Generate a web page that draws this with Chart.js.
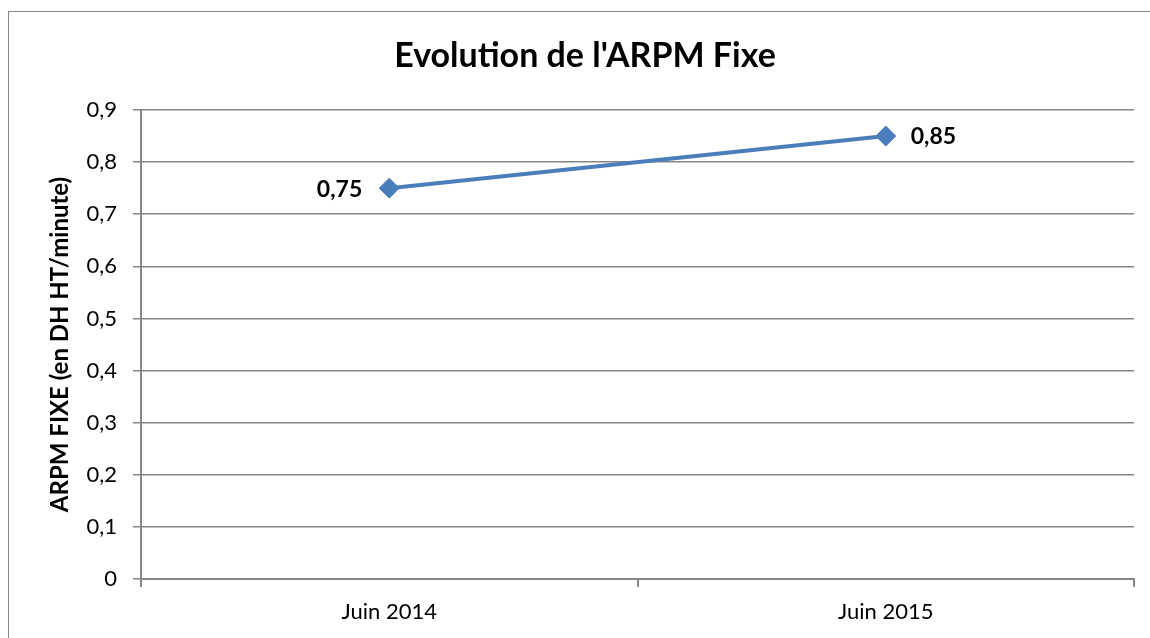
<!DOCTYPE html>
<html lang="fr">

<head>
    <meta charset="UTF-8">
    <title>Evolution de l'ARPM Fixe</title>
    <script src="https://cdn.jsdelivr.net/npm/chart.js"></script>
    <style>
        html, body { margin: 0; padding: 0; background: #fff; overflow: hidden; }
        #wrap { position: relative; width: 1150px; height: 638px; }
        #frame {
            position: absolute; left: 8px; top: 11px; width: 1200px; height: 700px;
            border-left: 1px solid #868686; border-top: 1px solid #868686;
        }
        canvas { position: absolute; left: 0; top: 0; }
    </style>
</head>

<body>
    <div id="wrap">
        <div id="frame"></div>
        <canvas id="arpmChart" width="1150" height="638"></canvas>
    </div>

    <script>
        // Data
        const periods = ['Juin 2014', 'Juin 2015'];
        const arpmValues = [0.75, 0.85];
        const chartTitle = "Evolution de l'ARPM Fixe";
        const yAxisTitle = 'ARPM FIXE (en DH HT/minute)';
        const yMin = 0, yMax = 0.9, yStep = 0.1;

        const fontFamily = 'Lato, "Open Sans", sans-serif';
        const lineColor = '#4a7ebb';
        const gridColor = '#868686';

        function frNumber(v) {
            if (Math.abs(v) < 1e-9) return '0';
            return String(Math.round(v * 100) / 100).replace('.', ',');
        }

        // Title + value labels, drawn by hand
        const labelsPlugin = {
            id: 'labelsPlugin',
            afterDatasetsDraw(chart) {
                const ctx = chart.ctx;
                ctx.save();
                ctx.fillStyle = '#000';
                ctx.textBaseline = 'middle';
                ctx.font = 'bold 34px ' + fontFamily;
                ctx.textAlign = 'center';
                ctx.fillText(chartTitle, 585, 56);

                ctx.font = 'bold 23px ' + fontFamily;
                const meta = chart.getDatasetMeta(0);
                meta.data.forEach((pt, i) => {
                    const txt = frNumber(arpmValues[i]);
                    if (i === 0) {
                        ctx.textAlign = 'right';
                        ctx.fillText(txt, pt.x - 27, pt.y + 1);
                    } else {
                        ctx.textAlign = 'left';
                        ctx.fillText(txt, pt.x + 25, pt.y + 1);
                    }
                });
                ctx.restore();
            }
        };

        const ctx = document.getElementById('arpmChart').getContext('2d');
        new Chart(ctx, {
            type: 'line',
            data: {
                labels: periods,
                datasets: [{
                    data: arpmValues,
                    borderColor: lineColor,
                    backgroundColor: lineColor,
                    borderWidth: 4,
                    pointStyle: 'rectRot',
                    pointRadius: 10,
                    pointBorderWidth: 1,
                    pointBorderColor: lineColor,
                    pointBackgroundColor: lineColor,
                    tension: 0,
                    fill: false
                }]
            },
            options: {
                responsive: false,
                animation: false,
                layout: { padding: { top: 110, right: 16, bottom: 0, left: 0 } },
                plugins: {
                    legend: { display: false },
                    title: { display: false },
                    tooltip: { enabled: false }
                },
                scales: {
                    x: {
                        offset: true,
                        grid: {
                            offset: true,
                            drawOnChartArea: false,
                            drawTicks: true,
                            tickLength: 8,
                            color: gridColor,
                            lineWidth: 2
                        },
                        border: { display: true, color: gridColor, width: 2 },
                        ticks: {
                            color: '#000',
                            padding: 12,
                            font: { family: fontFamily, size: 22 }
                        },
                        afterFit(scale) { scale.height = 59; }
                    },
                    y: {
                        min: yMin,
                        max: yMax,
                        ticks: {
                            stepSize: yStep,
                            color: '#000',
                            padding: 16,
                            font: { family: fontFamily, size: 22 },
                            callback: (v) => frNumber(v)
                        },
                        grid: {
                            color: gridColor,
                            lineWidth: 1.5,
                            tickLength: 8
                        },
                        border: { display: true, color: gridColor, width: 2 },
                        title: {
                            display: true,
                            text: yAxisTitle,
                            color: '#000',
                            font: { family: fontFamily, size: 24, weight: 'bold' },
                            padding: { top: 46, bottom: 0 }
                        },
                        afterFit(scale) { scale.width = 141; }
                    }
                }
            },
            plugins: [labelsPlugin]
        });
    </script>
</body>

</html>
